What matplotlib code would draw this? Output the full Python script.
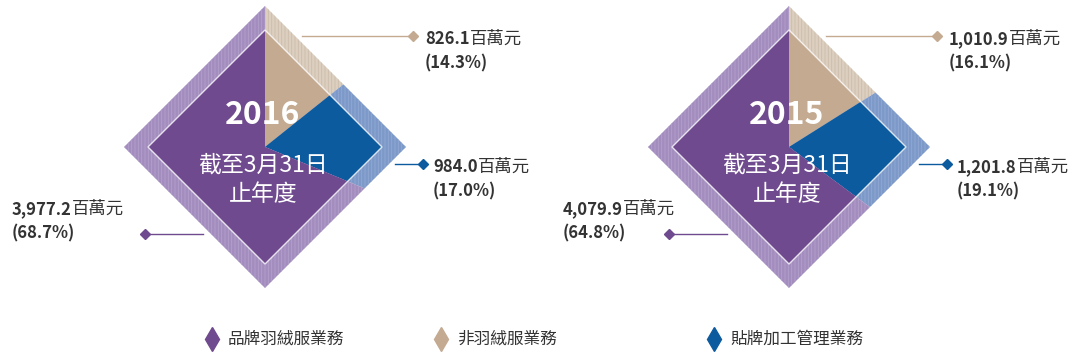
import matplotlib
matplotlib.use("Agg")
import matplotlib.pyplot as plt
from matplotlib.patches import Wedge, Polygon

plt.rcParams['font.family'] = ['Noto Sans CJK TC', 'DejaVu Sans']
plt.rcParams['hatch.linewidth'] = 0.6

# Dados
years = ['2016', '2015']
segments = ['品牌羽絨服業務', '非羽絨服業務', '貼牌加工管理業務']
revenue_2016 = [3977.2, 826.1, 984.0]
revenue_2015 = [4079.9, 1010.9, 1201.8]
share_2016 = [68.7, 14.3, 17.0]
share_2015 = [64.8, 16.1, 19.1]
subtitle = '截至3月31日\n止年度'
unit = '百萬元'

# Cores: sólida, faixa externa, hachura
solid = ['#6f4a8e', '#c4aa91', '#0d5b9f']
band = ['#a38cbe', '#dccfc0', '#7d99c9']
hatch_col = ['#b4a1cb', '#ccbcaa', '#91aad3']
text_col = '#333333'

fig = plt.figure(figsize=(10.8, 3.62), dpi=100)
ax = fig.add_axes([0, 0, 1, 1])
ax.set_xlim(0, 1080)
ax.set_ylim(362, 0)
ax.axis('off')

R_OUT, R_IN = 141, 117
charts = [
    # centro, valores, percentuais, x do texto roxo
    ((265, 147), revenue_2016, share_2016, 12),
    ((789, 147), revenue_2015, share_2015, 563),
]


def diamond(cx, cy, r):
    return Polygon([(cx, cy - r), (cx + r, cy), (cx, cy + r), (cx - r, cy)],
                   closed=True, transform=ax.transData)


def label(x, y, value, pct):
    t = ax.text(x, y, f'{value:,.1f}', fontsize=12, fontweight='bold',
                color=text_col, va='center', ha='left')
    ax.annotate(unit, xy=(1, 0.5), xycoords=t, va='center', ha='left',
                fontsize=12.5, color=text_col)
    ax.text(x, y + 24, f'({pct:.1f}%)', fontsize=12, fontweight='bold',
            color=text_col, va='center', ha='left')


for year, ((cx, cy), vals, pcts, xp) in zip(years, charts):
    total = sum(vals)
    # ordem do topo, sentido horário: não-plumas, OEM, marca
    order = [1, 2, 0]
    a = 90.0
    outer = diamond(cx, cy, R_OUT)
    inner = diamond(cx, cy, R_IN)
    for i in order:
        span = vals[i] / total * 360
        a_end = a - span
        # eixo y invertido: ângulo visual -> negativo
        w1 = Wedge((cx, cy), 220, -a, -a_end, facecolor=band[i],
                   edgecolor=hatch_col[i], hatch='|||||', lw=0)
        ax.add_patch(w1)
        w1.set_clip_path(outer)
        w2 = Wedge((cx, cy), 220, -a, -a_end, facecolor=solid[i], lw=0)
        ax.add_patch(w2)
        w2.set_clip_path(inner)
        a = a_end
    ax.add_patch(Polygon([(cx, cy - R_IN), (cx + R_IN, cy), (cx, cy + R_IN), (cx - R_IN, cy)],
                         closed=True, fill=False, edgecolor='white', lw=1.0, alpha=0.8))

    ax.text(cx - 2, cy - 32, year, color='white', fontsize=23, fontweight='bold',
            ha='center', va='center')
    ax.text(cx - 2, cy + 33, subtitle, color='white', fontsize=16.5,
            ha='center', va='center', linespacing=1.35)

    # linhas de chamada
    ax.plot([cx + 37, cx + 148], [36, 36], color=solid[1], lw=1)
    ax.plot(cx + 148, 36, marker='D', ms=5, color=solid[1])
    label(cx + 160, 39, vals[1], pcts[1])

    ax.plot([cx + 130, cx + 158], [164, 164], color=solid[2], lw=1)
    ax.plot(cx + 158, 164, marker='D', ms=5, color=solid[2])
    label(cx + 168, 167, vals[2], pcts[2])

    ax.plot([cx - 120, cx - 62], [234, 234], color=solid[0], lw=1)
    ax.plot(cx - 120, 234, marker='D', ms=5, color=solid[0])
    label(xp, 209, vals[0], pcts[0])

# legenda
leg_x = [212, 441, 714]
for i, (x, name) in enumerate(zip(leg_x, segments)):
    ax.plot(x, 339, marker='d', ms=12, color=solid[i])
    ax.text(x + 16, 339, name, fontsize=12, color=text_col, va='center', ha='left')

fig.savefig('out.png', dpi=100)
